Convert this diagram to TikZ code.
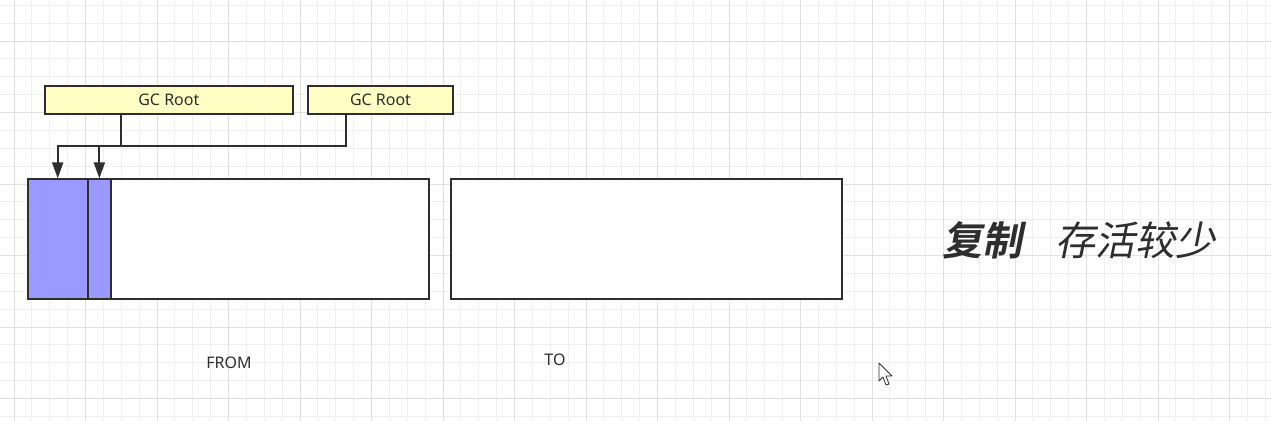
\documentclass[tikz,border=0pt]{standalone}
\usepackage{fontspec}
\setmainfont{Noto Sans}
\newfontfamily\cjkit[FakeSlant=0.2]{Noto Sans CJK SC}
\newfontfamily\cjkbf[FakeSlant=0.2]{Noto Sans CJK SC Bold}
\usetikzlibrary{arrows.meta}

\definecolor{inkgray}{HTML}{2E2E2E}
\definecolor{rootfill}{HTML}{FFFFC4}
\definecolor{liveblue}{HTML}{9999FF}
\definecolor{gridminor}{HTML}{F0F0F0}
\definecolor{gridmajor}{HTML}{E1E1E1}

\tikzset{
	rootbox/.style={draw=inkgray, fill=rootfill, line width=2pt, inner sep=0pt,
		minimum height=28pt, text=inkgray, font=\fontsize{16}{19}\selectfont},
	spacebox/.style={draw=inkgray, fill=white, line width=2pt, inner sep=0pt,
		minimum height=119.7pt},
	liveblock/.style={draw=inkgray, fill=liveblue, line width=2pt, inner sep=0pt,
		minimum height=119.7pt},
	link/.style={draw=inkgray, line width=2pt, -{Triangle[length=16pt, width=11pt]}},
	spacelabel/.style={text=inkgray, font=\fontsize{16}{19}\selectfont},
}

\begin{document}
\begin{tikzpicture}[x=1pt, y=-1pt]
	
	% --- Constants ---
	\def\gx{14}
	\def\gy{41}
	\def\gstep{17.875}
	
	\useasboundingbox (0,0) rectangle (1271,421);
	\fill[white] (0,0) rectangle (1271,421);
	
	% =======================================================
	% BACKGROUND GRID
	% =======================================================
	\foreach \i in {-1,...,71} {
		\pgfmathsetmacro{\xx}{\gx+\i*\gstep}
		\draw[gridminor, line width=0.8pt] (\xx,0) -- (\xx,421);
	}
	\foreach \j in {-3,...,22} {
		\pgfmathsetmacro{\yy}{\gy+\j*\gstep}
		\draw[gridminor, line width=0.8pt] (0,\yy) -- (1271,\yy);
	}
	\foreach \i in {0,4,...,68} {
		\pgfmathsetmacro{\xx}{\gx+\i*\gstep}
		\draw[gridmajor, line width=1pt] (\xx,0) -- (\xx,421);
	}
	\foreach \j in {0,4,...,20} {
		\pgfmathsetmacro{\yy}{\gy+\j*\gstep}
		\draw[gridmajor, line width=1pt] (0,\yy) -- (1271,\yy);
	}
	
	% =======================================================
	% GC ROOTS
	% =======================================================
	\node[rootbox, minimum width=247.7pt] (root1) at (168.85,100) {GC Root};
	\node[rootbox, minimum width=145pt] (root2) at (380.5,100) {GC Root};
	
	% =======================================================
	% FROM / TO SPACES
	% =======================================================
	\node[spacebox, minimum width=401.6pt] (fromsp) at (228.5,239.2) {};
	\node[spacebox, minimum width=391pt] (tosp) at (646.5,239.2) {};
	
	% live objects in FROM
	\node[liveblock, minimum width=60pt] (blk1) at (57.7,239.2) {};
	\node[liveblock, minimum width=23.3pt] (blk2) at (99.35,239.2) {};
	
	\node[spacelabel] (fromlbl) at (229,363) {FROM};
	\node[spacelabel] (tolbl) at (555,360) {TO};
	
	% --- References ---
	\draw[link] ([xshift=-48.15pt]root1.south) |- ([yshift=32.6pt]blk1.north) -- (blk1.north);
	\draw[link] ([xshift=-34.8pt]root2.south) |- ([yshift=32.6pt]blk2.north) -- (blk2.north);
	
	% =======================================================
	% CAPTION
	% =======================================================
	\node[text=inkgray, font=\cjkbf\fontsize{40}{46}\selectfont] (title) at (982,240) {复制};
	\node[text=inkgray, font=\cjkit\fontsize{40}{46}\selectfont] (note) at (1135,240) {存活较少};
	
	% mouse pointer
	\draw[inkgray, fill=white, line width=0.8pt, line join=round]
	(879,363) -- (879,381) -- (883,377) -- (886,385) -- (889,384) -- (886,376) -- (892,376) -- cycle;
	
\end{tikzpicture}
\end{document}
